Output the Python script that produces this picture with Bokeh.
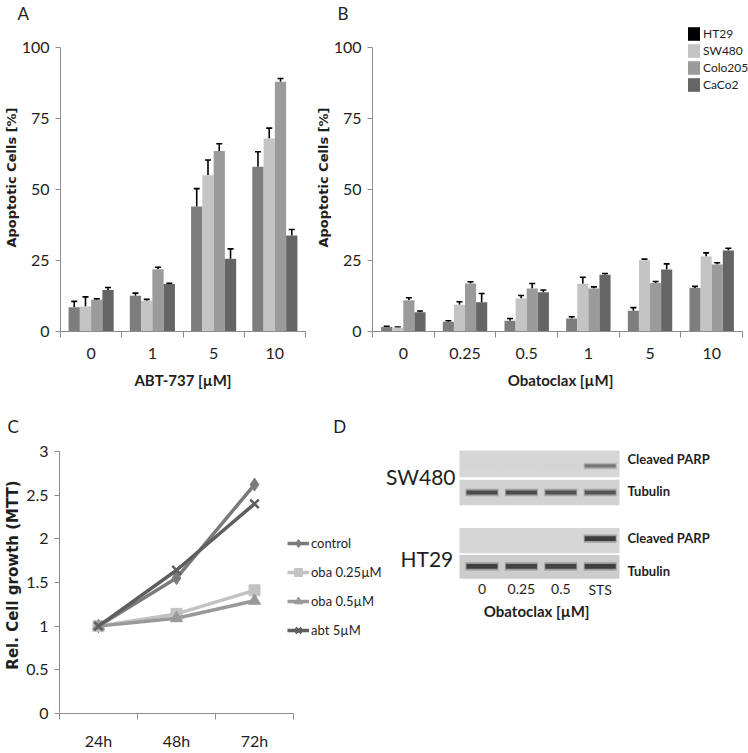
from bokeh.plotting import figure
from bokeh.models import (Range1d, FixedTicker, Whisker, TeeHead, Legend, LegendItem,
                          ColumnDataSource, CustomJSTickFormatter)
from bokeh.layouts import column, row
from bokeh.embed import file_html
from bokeh.resources import INLINE
from bokeh.core.properties import value

# ---------------- data ----------------
cell_lines = ["HT29", "SW480", "Colo205", "CaCo2"]

abt_doses = ["0", "1", "5", "10"]
abt_HT29 = [8.5, 12.6, 44.0, 58.0]
abt_HT29_err = [2.1, 0.9, 6.3, 5.3]
abt_SW480 = [8.8, 10.8, 55.0, 68.0]
abt_SW480_err = [3.4, 0.5, 5.4, 3.6]
abt_Colo205 = [11.2, 21.9, 63.6, 87.9]
abt_Colo205_err = [0.3, 0.7, 2.5, 1.2]
abt_CaCo2 = [14.6, 16.7, 25.6, 33.8]
abt_CaCo2_err = [0.9, 0.3, 3.5, 2.1]

oba_doses = ["0", "0.25", "0.5", "1", "5", "10"]
oba_HT29 = [1.6, 3.4, 3.8, 4.6, 7.3, 15.3]
oba_HT29_err = [0.2, 0.4, 0.8, 0.6, 1.1, 0.6]
oba_SW480 = [1.4, 9.4, 11.6, 16.8, 25.1, 26.4]
oba_SW480_err = [0.2, 1.1, 1.1, 2.3, 0.4, 1.3]
oba_Colo205 = [11.0, 16.9, 15.1, 15.1, 17.1, 23.6]
oba_Colo205_err = [0.9, 0.6, 1.8, 0.6, 0.5, 0.6]
oba_CaCo2 = [6.8, 10.3, 13.8, 20.0, 21.8, 28.5]
oba_CaCo2_err = [0.4, 3.1, 0.8, 0.4, 2.0, 0.8]

times = ["24h", "48h", "72h"]
growth_control = [1.0, 1.55, 2.62]
growth_oba025 = [1.0, 1.14, 1.41]
growth_oba05 = [1.0, 1.09, 1.29]
growth_abt5 = [1.0, 1.64, 2.40]
growth_names = ["control", "oba 0.25µM", "oba 0.5µM", "abt 5µM"]

blot_lanes = ["0", "0.25", "0.5", "STS"]
blot_parp_sw480 = [0.01, 0.01, 0.015, 0.55]
blot_tubulin_sw480 = [0.80, 0.80, 0.76, 0.74]
blot_parp_ht29 = [0.0, 0.0, 0.0, 0.88]
blot_tubulin_ht29 = [0.86, 0.84, 0.84, 0.86]

# ---------------- style ----------------
FONT = "Lato"
AX = "#8c8c8c"
TXT = "#1e1e1e"
bar_colors = ["#7d7d7d", "#c4c4c4", "#9b9b9b", "#656565"]
legend_colors = ["#000000", "#c4c4c4", "#9b9b9b", "#656565"]
line_colors = ["#7a7a7a", "#c2c2c2", "#999999", "#5e5e5e"]
markers = ["diamond", "square", "triangle", "x"]
marker_sizes = [13, 11, 12, 12]
NAN = float("nan")

# geometry (page pixels)
TOP_H = 413            # height of the top row
BOT_H = 339            # height of the bottom row
AB_TOP = 23            # frame top of A and B
AB_Y100 = 47           # pixel row of 100 %
AB_Y0 = 331            # pixel row of 0 %


def base_fig(width, height, bl, br, bt, bb, xr, yr, title):
    p = figure(width=width, height=height, x_range=xr, y_range=yr,
               output_backend="svg", toolbar_location=None, title=title,
               min_border_left=bl, min_border_right=br,
               min_border_top=bt, min_border_bottom=bb)
    p.xgrid.visible = False
    p.ygrid.visible = False
    p.outline_line_color = None
    p.title.align = "left"
    p.title.text_font = FONT
    p.title.text_font_size = "17px"
    p.title.text_font_style = "normal"
    p.title.text_color = TXT
    p.title.standoff = 0
    return p


def style_axes(p):
    for ax in p.axis:
        ax.axis_line_color = AX
        ax.major_tick_line_color = AX
        ax.minor_tick_line_color = AX
        ax.major_label_text_font = FONT
        ax.major_label_text_font_size = "16px"
        ax.major_label_text_color = TXT
        ax.axis_label_text_color = TXT
        ax.axis_label_text_font_style = "bold"


def cat_xaxis(p, labels, label_text, standoff):
    n = len(labels)
    p.xaxis.ticker = FixedTicker(ticks=[i + 0.5 for i in range(n)],
                                 minor_ticks=list(range(n + 1)))
    p.xaxis.formatter = CustomJSTickFormatter(args=dict(labels=labels),
                                              code="return labels[Math.floor(tick)];")
    p.xaxis.bounds = (0, n)
    p.xaxis.major_tick_out = 0
    p.xaxis.major_tick_in = 0
    p.xaxis.minor_tick_out = 6
    p.xaxis.minor_tick_in = 0
    p.xaxis.major_label_standoff = standoff
    if label_text:
        p.xaxis.axis_label = label_text


def left_yaxis(p, ticks, label, size, bounds):
    p.yaxis.ticker = FixedTicker(ticks=ticks, minor_ticks=[])
    p.yaxis.bounds = bounds
    p.yaxis.major_tick_out = 5
    p.yaxis.major_tick_in = 0
    p.yaxis.minor_tick_out = 0
    p.yaxis.minor_tick_in = 0
    p.yaxis.major_label_standoff = 6
    p.yaxis.axis_label = label
    p.yaxis.axis_label_text_font = "DejaVu Sans"
    p.yaxis.axis_label_text_font_size = size
    p.yaxis.axis_label_standoff = 0


def bar_figure(width, bl, br, frame_w, cat_w, doses, series, errs, bar_w, xlabel, title, offset):
    n = len(doses)
    ymax = 100 * (AB_Y0 - AB_TOP) / (AB_Y0 - AB_Y100)
    xmax = frame_w / cat_w
    p = base_fig(width, TOP_H, bl, br, AB_TOP, TOP_H - AB_Y0,
                 Range1d(0, xmax), Range1d(0, ymax), title)
    p.title.offset = offset
    offs = [-1.5, -0.5, 0.5, 1.5]
    for k in range(4):
        vals, err = series[k], errs[k]
        src = ColumnDataSource(dict(
            x=[i + 0.5 + offs[k] * bar_w for i in range(n)],
            top=vals,
            up=[v + e for v, e in zip(vals, err)]))
        p.vbar(x="x", top="top", bottom=0, width=bar_w, source=src,
               fill_color=bar_colors[k], line_color=None)
        p.add_layout(Whisker(source=src, base="x", lower="top", upper="up",
                             dimension="height", line_color="black", line_width=1.6,
                             upper_head=TeeHead(size=6, line_color="black", line_width=1.6),
                             lower_head=None))
    style_axes(p)
    left_yaxis(p, [0, 25, 50, 75, 100], "Apoptotic Cells [%]", "13px", (0, 100))
    cat_xaxis(p, doses, xlabel, 10)
    p.xaxis.axis_label_text_font = FONT
    p.xaxis.axis_label_text_font_size = "15px"
    p.xaxis.axis_label_standoff = 9
    return p


# ---------------- panel A ----------------
pA = bar_figure(312, 60, 7, 245, 61.25, abt_doses,
                [abt_HT29, abt_SW480, abt_Colo205, abt_CaCo2],
                [abt_HT29_err, abt_SW480_err, abt_Colo205_err, abt_CaCo2_err],
                0.184, "ABT-737 [µM]", "A", -43)

# ---------------- panel B ----------------
pB = bar_figure(436, 56, 0, 380, 62.33, oba_doses,
                [oba_HT29, oba_SW480, oba_Colo205, oba_CaCo2],
                [oba_HT29_err, oba_SW480_err, oba_Colo205_err, oba_CaCo2_err],
                0.18, "Obatoclax [µM]", "B", -35)
proxies = [pB.vbar(x=[NAN], top=[NAN], width=0.1, fill_color=legend_colors[k], line_color=None)
           for k in range(4)]
legB = Legend(items=[LegendItem(label=cell_lines[k], renderers=[proxies[k]]) for k in range(4)],
              location=(314, 238), orientation="vertical",
              glyph_width=15, glyph_height=17, label_height=17, spacing=0,
              padding=0, margin=0, label_standoff=2,
              border_line_alpha=0, background_fill_alpha=0,
              label_text_font=FONT, label_text_font_size="12px", label_text_color=TXT)
pB.add_layout(legB)

# ---------------- panel C (title also carries the panel letter D) ----------------
C_W = 385
C_LEFT = 59
C_TOP = 23
C_BOTTOM = 37
c_px_unit = 78.0
c_py_unit = 88.0
c_frame_h = BOT_H - C_TOP - C_BOTTOM
pC = base_fig(C_W, BOT_H, C_LEFT, 0, C_TOP, C_BOTTOM,
              Range1d(0, (C_W - C_LEFT) / c_px_unit), Range1d(0, c_frame_h / c_py_unit),
              "C" + "\u2003" * 24 + "\u2002" + "D")
pC.title.offset = -52
xs_c = [i + 0.5 for i in range(len(times))]
items_c = []
for k, vals in enumerate([growth_control, growth_oba025, growth_oba05, growth_abt5]):
    ln = pC.line(xs_c, vals, line_color=line_colors[k], line_width=3.5)
    mk = pC.scatter(xs_c, vals, marker=markers[k], size=marker_sizes[k],
                    fill_color=line_colors[k], line_color=line_colors[k],
                    line_width=2.5 if markers[k] == "x" else 1)
    items_c.append(LegendItem(label=growth_names[k], renderers=[ln, mk]))
style_axes(pC)
left_yaxis(pC, [0, 0.5, 1, 1.5, 2, 2.5, 3], "Rel. Cell growth (MTT)", "15px", (0, 3))
pC.yaxis.formatter = CustomJSTickFormatter(code="return tick.toString();")
pC.yaxis.axis_label_standoff = 1
cat_xaxis(pC, times, None, 11)
legC = Legend(items=items_c, location=(228, 73), orientation="vertical",
              glyph_width=22, glyph_height=20, label_height=20, spacing=9,
              padding=0, margin=0, label_standoff=2,
              border_line_alpha=0, background_fill_alpha=0,
              label_text_font=FONT, label_text_font_size="13px", label_text_color=TXT)
pC.add_layout(legC)

# ---------------- panel D (western blot) ----------------
D_X0 = C_W
pD = figure(width=748 - D_X0, height=BOT_H, x_range=Range1d(D_X0, 748),
            y_range=Range1d(TOP_H + BOT_H, TOP_H),
            output_backend="svg", toolbar_location=None, min_border=0,
            x_axis_location=None, y_axis_location=None)
pD.xgrid.visible = False
pD.ygrid.visible = False
pD.outline_line_color = None

lane_x = [481.5 + 39.4 * i for i in range(len(blot_lanes))]
strips = [  # (top, bottom, background gray, band y, band height, intensities)
    (430, 463, 214, 449, 4, blot_parp_sw480),
    (466, 497, 210, 481.5, 5, blot_tubulin_sw480),
    (525, 556, 214, 538, 6, blot_parp_ht29),
    (558, 587, 204, 572, 6, blot_tubulin_ht29),
]


def gray(g):
    g = int(max(0, min(255, round(g))))
    return "#%02x%02x%02x" % (g, g, g)


for top, bot, bg, by, bh, inten in strips:
    pD.quad(left=[459], right=[619], top=[top], bottom=[bot], fill_color=gray(bg), line_color=None)
    cols = [gray(bg - v * (bg - 40)) for v in inten]
    halo = [gray(bg - v * (bg - 40) * 0.6) for v in inten]
    pD.rect(x=lane_x, y=[by] * 4, width=33, height=bh + 4, fill_color=halo,
            fill_alpha=0.6, line_color=None)
    pD.rect(x=lane_x, y=[by] * 4, width=31, height=bh, fill_color=cols, line_color=None)

pD.text(x=[455], y=[462], text=["SW480"], text_font=value(FONT),
        text_font_size="21px", text_color=TXT, text_align="right", text_baseline="middle")
pD.text(x=[400], y=[562], text=["HT29"], text_font=value(FONT),
        text_font_size="21px", text_color=TXT, text_align="left", text_baseline="middle")
pD.text(x=[627] * 4, y=[441, 480, 537, 577],
        text=["Cleaved PARP", "Tubulin", "Cleaved PARP", "Tubulin"],
        text_font=value(FONT), text_font_style="bold", text_font_size="13px",
        text_color=TXT, text_align="left", text_baseline="middle")
pD.text(x=lane_x, y=[600] * 4, text=blot_lanes, text_font=value(FONT),
        text_font_size="14px", text_color=TXT, text_align="center", text_baseline="middle")
pD.text(x=[538], y=[627], text=["Obatoclax  [µM]"], text_font=value(FONT),
        text_font_style="bold", text_font_size="15px", text_color=TXT,
        text_align="center", text_baseline="middle")

layout = column(row(pA, pB), row(pC, pD))
open("out.html", "w").write(file_html(layout, INLINE))
